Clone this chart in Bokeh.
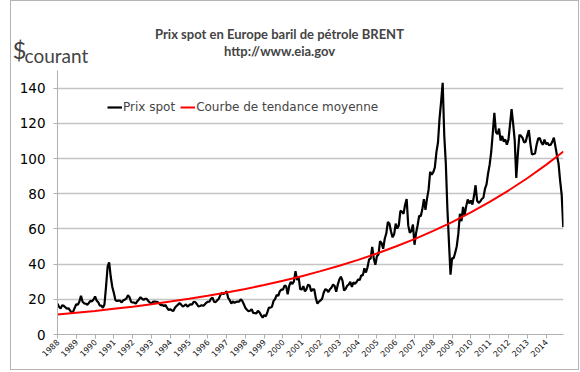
import math
from bokeh.plotting import figure
from bokeh.layouts import column
from bokeh.models import Range1d, FixedTicker, Label, Legend, LegendItem
from bokeh.embed import file_html
from bokeh.resources import INLINE

# Monthly Brent spot prices ($ courant), Jan 1988 .. Dec 2014 (read/estimated)
start_year = 1988
spot = [
    17.5, 15.7, 14.7, 16.6, 16.3, 15.5, 14.7, 14.9, 13.7, 12.3, 13.0, 15.2,   # 1988
    17.2, 16.9, 18.7, 22.0, 18.6, 17.7, 17.5, 16.9, 17.9, 19.1, 18.8, 19.9,   # 1989
    21.6, 19.2, 18.4, 16.4, 16.4, 15.1, 17.2, 27.2, 38.5, 41.0, 32.8, 27.0,   # 1990
    23.6, 19.5, 19.1, 19.2, 19.2, 18.2, 19.4, 19.8, 20.5, 22.3, 21.2, 18.5,   # 1991
    18.2, 18.1, 17.6, 18.9, 19.9, 21.2, 20.3, 19.7, 20.3, 20.3, 19.0, 18.2,   # 1992
    17.4, 18.6, 18.7, 18.6, 18.4, 17.6, 16.6, 16.8, 16.1, 16.8, 15.1, 13.8,   # 1993
    14.4, 13.7, 13.4, 15.2, 16.2, 17.0, 17.8, 17.0, 15.9, 16.4, 17.1, 15.9,   # 1994
    16.6, 17.2, 17.0, 18.6, 18.4, 17.3, 15.9, 16.2, 16.6, 16.3, 17.0, 18.0,   # 1995
    18.6, 18.6, 20.3, 21.0, 18.6, 18.4, 19.4, 20.3, 22.4, 23.6, 22.9, 23.6,   # 1996
    24.5, 20.8, 19.5, 17.6, 18.8, 18.0, 18.5, 18.7, 18.7, 20.0, 19.1, 17.2,   # 1997
    15.1, 14.1, 13.2, 13.5, 14.4, 12.2, 12.1, 12.0, 13.4, 12.6, 11.0, 9.6,    # 1998
    11.1, 10.3, 12.5, 15.3, 15.2, 15.9, 19.1, 20.2, 22.5, 22.0, 24.6, 25.5,   # 1999
    25.5, 27.8, 27.5, 22.8, 27.7, 29.8, 28.7, 30.2, 36.0, 31.0, 32.6, 25.7,   # 2000
    25.6, 27.5, 24.5, 25.7, 28.3, 27.9, 24.6, 25.7, 25.6, 20.5, 17.5, 18.7,   # 2001
    19.4, 20.3, 23.7, 25.7, 25.4, 24.1, 25.7, 26.7, 28.4, 27.5, 24.3, 28.3,   # 2002
    31.2, 32.8, 30.6, 25.0, 25.9, 27.7, 28.4, 29.9, 27.1, 29.6, 28.8, 29.8,   # 2003
    31.3, 30.9, 33.6, 33.6, 37.6, 35.2, 38.2, 42.7, 43.2, 49.8, 43.1, 39.6,   # 2004
    44.5, 45.5, 53.1, 51.9, 48.7, 54.4, 57.5, 64.0, 62.9, 58.5, 55.2, 56.9,   # 2005
    63.0, 60.2, 62.1, 70.3, 69.8, 68.6, 73.7, 77.0, 62.0, 57.8, 58.8, 62.5,   # 2006
    51.0, 57.6, 62.1, 67.5, 67.2, 71.1, 76.9, 70.8, 77.2, 82.3, 92.4, 90.9,   # 2007
    92.2, 95.0, 103.6, 109.1, 122.8, 132.3, 143.0, 113.2, 97.2, 71.6, 52.5, 34.0,  # 2008
    43.4, 43.3, 46.5, 50.2, 57.3, 68.6, 64.4, 72.5, 67.7, 72.8, 76.7, 74.5,   # 2009
    76.2, 73.8, 78.8, 84.8, 76.0, 74.8, 75.6, 77.0, 77.8, 82.7, 85.3, 91.5,   # 2010
    96.5, 103.7, 114.6, 126.0, 115.0, 113.8, 117.0, 110.2, 112.8, 109.6, 110.8, 107.9,  # 2011
    110.7, 119.3, 128.0, 119.8, 110.3, 89.0, 102.6, 113.4, 112.9, 111.7, 109.1, 109.5,  # 2012
    113.0, 116.1, 108.5, 102.3, 102.6, 102.9, 107.9, 111.3, 111.6, 109.1, 107.8, 110.8,  # 2013
    108.1, 108.9, 107.5, 107.8, 109.5, 111.8, 106.8, 101.6, 97.1, 87.4, 79.4, 61.0,     # 2014
]

# Trend curve ("courbe de tendance moyenne") read at each year
trend_years = [1988, 1989, 1990, 1991, 1992, 1993, 1994, 1995, 1996, 1997,
               1998, 1999, 2000, 2001, 2002, 2003, 2004, 2005, 2006, 2007,
               2008, 2009, 2010, 2011, 2012, 2013, 2014, 2014.93]
trend = [11.4, 12.4, 13.4, 14.6, 15.8, 17.2, 18.7, 20.3, 22.0, 23.9,
         25.9, 28.1, 30.5, 33.1, 36.0, 39.1, 42.4, 46.0, 50.0, 54.2,
         58.9, 63.9, 69.4, 75.3, 81.8, 88.8, 96.4, 104.0]

years = list(range(1988, 2015))
tick_labels = [str(y) for y in years]
y_ticks = [0, 20, 40, 60, 80, 100, 120, 140]

title_1 = "Prix spot en Europe baril de pétrole BRENT"
title_2 = "http://www.eia.gov"

x_spot = [start_year + i / 12 for i in range(len(spot))]

W, HH, HM = 567, 69, 299

# ---- header (titles) ----
head = figure(width=W, height=HH, output_backend="svg", toolbar_location=None,
              x_range=Range1d(0, W), y_range=Range1d(0, HH),
              x_axis_type=None, y_axis_type=None, min_border=0)
head.frame_align = False
head.outline_line_color = None
head.background_fill_color = "white"
head.border_fill_color = "white"
head.add_layout(Label(x=268, y=37, x_units="screen", y_units="screen",
                      text=title_1, text_align="center", text_baseline="middle",
                      text_font="Lato", text_font_style="bold", text_font_size="13px"))
head.add_layout(Label(x=268, y=20, x_units="screen", y_units="screen",
                      text=title_2, text_align="center", text_baseline="middle",
                      text_font="Lato", text_font_style="bold", text_font_size="13px"))
head.add_layout(Label(x=1, y=21, x_units="screen", y_units="screen",
                      text="$", text_align="left", text_baseline="alphabetic",
                      text_font="Lato", text_font_size="24px"))
head.add_layout(Label(x=13, y=15, x_units="screen", y_units="screen",
                      text="courant", text_align="left", text_baseline="alphabetic",
                      text_font="Lato", text_font_size="19px"))

# ---- main chart ----
main = figure(width=W, height=HM, output_backend="svg", toolbar_location=None,
              x_range=Range1d(1988, 2014.93), y_range=Range1d(0, 150),
              min_border_left=46, min_border_right=15, min_border_top=0,
              min_border_bottom=35)
main.frame_align = False
main.outline_line_color = None
main.background_fill_color = "white"
main.border_fill_color = "white"

r_spot = main.line(x_spot, spot, line_color="black", line_width=2.2)
r_trend = main.line(trend_years, trend, line_color="#ff0000", line_width=2)

main.xaxis.ticker = FixedTicker(ticks=years)
main.xaxis.major_label_overrides = {y: lab for y, lab in zip(years, tick_labels)}
main.xaxis.major_label_orientation = math.pi / 4
main.xaxis.major_label_text_font = "DejaVu Sans"
main.xaxis.major_label_text_font_size = "8px"
main.xaxis.major_label_text_color = "#111111"
main.xaxis.major_label_standoff = 2
main.xaxis.minor_tick_line_color = None
main.xaxis.major_tick_in = 0
main.xaxis.major_tick_out = 4
main.xaxis.axis_line_color = "#b0b0b0"
main.xaxis.major_tick_line_color = "#b0b0b0"
main.xgrid.visible = False

main.yaxis.ticker = FixedTicker(ticks=y_ticks)
main.yaxis.major_label_text_font = "DejaVu Sans"
main.yaxis.major_label_text_font_size = "13.5px"
main.yaxis.major_label_text_color = "black"
main.yaxis.major_label_standoff = 8
main.yaxis.minor_tick_line_color = None
main.yaxis.major_tick_in = 0
main.yaxis.major_tick_out = 4
main.yaxis.axis_line_color = "#b0b0b0"
main.yaxis.major_tick_line_color = "#b0b0b0"
main.ygrid.ticker = FixedTicker(ticks=y_ticks[1:])
main.ygrid.grid_line_color = "#c4c4c4"
main.ygrid.grid_line_width = 1.5

legend = Legend(items=[LegendItem(label="Prix spot", renderers=[r_spot]),
                       LegendItem(label="Courbe de tendance moyenne", renderers=[r_trend])],
                location=(50, 219), orientation="horizontal",
                label_text_font="DejaVu Sans", label_text_font_size="12px",
                glyph_width=15, glyph_height=16, label_height=16,
                label_standoff=1, spacing=5, padding=0, margin=0,
                background_fill_alpha=0, border_line_color=None)
main.add_layout(legend)

p = column(head, main, spacing=0,
           stylesheets=[":host { border: 1px solid #b4b4b4; margin-left: 10px; }"])

open("out.html", "w").write(file_html(p, INLINE))
